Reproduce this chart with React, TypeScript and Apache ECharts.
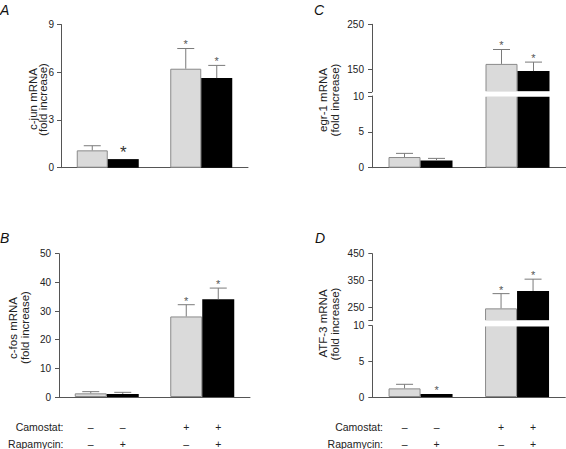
import React, { useEffect, useRef } from 'react';
import * as echarts from 'echarts';

// ---------- data ----------
const groups = ['Control', 'Camostat'];
const camostatSigns = ['–', '–', '+', '+'];
const rapamycinSigns = ['–', '+', '–', '+'];

// A: c-jun (grey = no rapamycin, black = rapamycin)
const cjunGrey = [1.09, 6.22];
const cjunGreySem = [0.29, 1.27];
const cjunBlack = [0.54, 5.63];
const cjunBlackSem = [0, 0.8];
const cjunGreyStar = [0, 1];
const cjunBlackStar = [2, 1];
const cjunTicks = [0, 3, 6, 9];

// B: c-fos
const cfosGrey = [1.28, 28.1];
const cfosGreySem = [0.58, 4.1];
const cfosBlack = [1.05, 34.1];
const cfosBlackSem = [0.58, 3.9];
const cfosGreyStar = [0, 1];
const cfosBlackStar = [0, 1];
const cfosTicks = [0, 10, 20, 30, 40, 50];

// C: egr-1
const egrGrey = [1.49, 162];
const egrGreySem = [0.51, 32];
const egrBlack = [1.02, 146];
const egrBlackSem = [0.28, 20];
const egrGreyStar = [0, 1];
const egrBlackStar = [0, 1];
const egrLowTicks = [0, 5, 10];
const egrHighTicks = [100, 150, 250];
const egrHighLabels = [150, 250];

// D: ATF-3
const atfGrey = [1.21, 246];
const atfGreySem = [0.57, 55];
const atfBlack = [0.42, 311];
const atfBlackSem = [0, 44];
const atfGreyStar = [0, 1];
const atfBlackStar = [1, 1];
const atfLowTicks = [0, 5, 10];
const atfHighTicks = [200, 250, 350, 450];
const atfHighLabels = [250, 350, 450];

// ---------- layout ----------
const FONT = '"Liberation Sans", Arial, Helvetica, sans-serif';
const AXIS_COLOR = '#555';
const LABEL_COLOR = '#222';
const GREY_FILL = '#dadada';
const GREY_BORDER = '#8a8a8a';
const ERR_COLOR = '#7a7a7a';

type Seg = { top: number; height: number; min: number; max: number; ticks: number[]; labels: number[] };
type Panel = {
  letter: string; letterX: number; letterY: number;
  title1: string; t1x: number; t1y: number; t2x: number; t2y: number;
  left: number; width: number; barW: number; labelMargin: number; segs: Seg[];
  grey: number[]; greySem: number[]; black: number[]; blackSem: number[];
  greyStar: number[]; blackStar: number[];
  signs?: { labelRight: number; y1: number; y2: number };
};

const panels: Panel[] = [
  {
    letter: 'A', letterX: 0, letterY: 10,
    title1: 'c-jun mRNA', t1x: 32.8, t1y: 99, t2x: 43, t2y: 99.5,
    left: 61, width: 187, barW: 31, labelMargin: 7,
    segs: [{ top: 24.5, height: 143.2, min: 0, max: 9, ticks: cjunTicks, labels: cjunTicks }],
    grey: cjunGrey, greySem: cjunGreySem, black: cjunBlack, blackSem: cjunBlackSem,
    greyStar: cjunGreyStar, blackStar: cjunBlackStar,
  },
  {
    letter: 'C', letterX: 314, letterY: 10,
    title1: 'egr-1 mRNA', t1x: 322.7, t1y: 100, t2x: 335, t2y: 100,
    left: 372, width: 194, barW: 32, labelMargin: 8,
    segs: [
      { top: 96, height: 71.7, min: 0, max: 10, ticks: egrLowTicks, labels: egrLowTicks },
      { top: 24.3, height: 67.5, min: 100, max: 250, ticks: egrHighTicks, labels: egrHighLabels },
    ],
    grey: egrGrey, greySem: egrGreySem, black: egrBlack, blackSem: egrBlackSem,
    greyStar: egrGreyStar, blackStar: egrBlackStar,
  },
  {
    letter: 'B', letterX: 0, letterY: 238,
    title1: 'c-fos mRNA', t1x: 13, t1y: 328, t2x: 25.3, t2y: 327.5,
    left: 59, width: 191, barW: 32, labelMargin: 8,
    segs: [{ top: 253.7, height: 143.3, min: 0, max: 50, ticks: cfosTicks, labels: cfosTicks }],
    grey: cfosGrey, greySem: cfosGreySem, black: cfosBlack, blackSem: cfosBlackSem,
    greyStar: cfosGreyStar, blackStar: cfosBlackStar,
    signs: { labelRight: 63.5, y1: 426.5, y2: 443.5 },
  },
  {
    letter: 'D', letterX: 315, letterY: 238,
    title1: 'ATF-3 mRNA', t1x: 323.3, t1y: 323.5, t2x: 335.3, t2y: 324,
    left: 372.3, width: 193, barW: 32, labelMargin: 8,
    segs: [
      { top: 325.7, height: 71.3, min: 0, max: 10, ticks: atfLowTicks, labels: atfLowTicks },
      { top: 253.7, height: 67, min: 200, max: 450, ticks: atfHighTicks, labels: atfHighLabels },
    ],
    grey: atfGrey, greySem: atfGreySem, black: atfBlack, blackSem: atfBlackSem,
    greyStar: atfGreyStar, blackStar: atfBlackStar,
    signs: { labelRight: 383, y1: 426.5, y2: 443.5 },
  },
];

function buildOption() {
  const grid: any[] = [];
  const xAxis: any[] = [];
  const yAxis: any[] = [];
  const series: any[] = [];
  const graphic: any[] = [];

  panels.forEach((p) => {
    const makeRender = (barW: number) => (params: any, api: any) => {
      const cat = api.value(0);
      const v = api.value(1);
      const sem = api.value(2);
      const k = api.value(3);
      const star = api.value(4);
      const base = api.coord([cat, v]);
      const top = api.coord([cat, v + sem]);
      const x = base[0] + (k === 0 ? -barW / 2 : barW / 2);
      const children: any[] = [];
      if (sem > 0) {
        children.push({ type: 'line', shape: { x1: x, y1: base[1], x2: x, y2: top[1] }, style: { stroke: ERR_COLOR, lineWidth: 1 } });
        children.push({ type: 'line', shape: { x1: x - 8.5, y1: top[1], x2: x + 8.5, y2: top[1] }, style: { stroke: ERR_COLOR, lineWidth: 1 } });
      }
      if (star) {
        const fs = star === 2 ? 17 : 11;
        const off = star === 2 ? 11 : 7;
        children.push({
          type: 'text', x, y: top[1] - off + 0.27 * fs,
          style: { text: '*', fontSize: fs, fontFamily: FONT, fill: star === 2 ? '#333' : '#555', align: 'center', verticalAlign: 'middle' },
        });
      }
      return { type: 'group', children };
    };

    p.segs.forEach((s, si) => {
      const gi = grid.length;
      const isBottom = si === 0;
      grid.push({ left: p.left, top: s.top, width: p.width, height: s.height, containLabel: false });
      xAxis.push({
        gridIndex: gi, type: 'category', data: groups, show: isBottom,
        axisLine: { show: true, onZero: false, lineStyle: { color: AXIS_COLOR, width: 1 } },
        axisTick: { show: false }, axisLabel: { show: false }, splitLine: { show: false },
      });
      yAxis.push({
        gridIndex: gi, type: 'value', min: s.min, max: s.max,
        axisLine: { show: true, lineStyle: { color: AXIS_COLOR, width: 1 } },
        axisTick: { show: true, length: 4, lineStyle: { color: AXIS_COLOR }, customValues: s.ticks },
        axisLabel: { show: true, margin: p.labelMargin, fontSize: 10, fontFamily: FONT, color: LABEL_COLOR, customValues: s.labels },
        splitLine: { show: false },
      });
      const inSegBar = (v: number) => (si === 0 ? v : v > s.min ? v : null);
      series.push({
        type: 'bar', xAxisIndex: gi, yAxisIndex: gi, barWidth: p.barW, barGap: '0%', clip: true,
        data: p.grey.map(inSegBar),
        itemStyle: { color: GREY_FILL, borderColor: GREY_BORDER, borderWidth: 1 },
        z: 2,
      });
      series.push({
        type: 'bar', xAxisIndex: gi, yAxisIndex: gi, barWidth: p.barW, barGap: '0%', clip: true,
        data: p.black.map(inSegBar),
        itemStyle: { color: '#000' },
        z: 2,
      });
      const errData: any[] = [];
      const pushErr = (vals: number[], sems: number[], stars: number[], k: number) => {
        vals.forEach((v, i) => {
          if (v >= s.min && v <= s.max) errData.push([i, v, sems[i], k, stars[i]]);
        });
      };
      pushErr(p.grey, p.greySem, p.greyStar, 0);
      pushErr(p.black, p.blackSem, p.blackStar, 1);
      series.push({
        type: 'custom', xAxisIndex: gi, yAxisIndex: gi, clip: false, z: 5,
        encode: { x: 0, y: 1 },
        renderItem: makeRender(p.barW),
        data: errData,
      });
    });

    // break gap across the bars
    if (p.segs.length > 1) {
      const low = p.segs[0];
      const high = p.segs[1];
      const hb = high.top + high.height;
      graphic.push({
        type: 'rect', z: 50,
        shape: { x: p.left + 4, y: hb - 0.5, width: p.width - 4, height: low.top - hb + 1.2 },
        style: { fill: '#fff' },
      });
    }

    graphic.push({
      type: 'text', x: p.letterX, y: p.letterY, z: 50,
      style: { text: p.letter, fontSize: 14, fontStyle: 'italic', fontFamily: FONT, fill: '#111', align: 'left', verticalAlign: 'middle' },
    });
    graphic.push({
      type: 'text', x: p.t1x, y: p.t1y, rotation: Math.PI / 2, z: 50,
      style: { text: p.title1, fontSize: 11.5, fontFamily: FONT, fill: LABEL_COLOR, align: 'center', verticalAlign: 'middle' },
    });
    graphic.push({
      type: 'text', x: p.t2x, y: p.t2y, rotation: Math.PI / 2, z: 50,
      style: { text: '(fold increase)', fontSize: 11.5, fontFamily: FONT, fill: LABEL_COLOR, align: 'center', verticalAlign: 'middle' },
    });

    if (p.signs) {
      const sg = p.signs;
      graphic.push({
        type: 'text', x: sg.labelRight, y: sg.y1, z: 50,
        style: { text: 'Camostat:', fontSize: 10.5, fontFamily: FONT, fill: LABEL_COLOR, align: 'right', verticalAlign: 'middle' },
      });
      graphic.push({
        type: 'text', x: sg.labelRight, y: sg.y2, z: 50,
        style: { text: 'Rapamycin:', fontSize: 10.5, fontFamily: FONT, fill: LABEL_COLOR, align: 'right', verticalAlign: 'middle' },
      });
      const band = p.width / groups.length;
      for (let i = 0; i < 4; i++) {
        const g = Math.floor(i / 2);
        const cx = p.left + band * (g + 0.5) + (i % 2 === 0 ? -p.barW / 2 : p.barW / 2);
        graphic.push({
          type: 'text', x: cx, y: sg.y1, z: 50,
          style: { text: camostatSigns[i], fontSize: 10.5, fontFamily: FONT, fill: LABEL_COLOR, align: 'center', verticalAlign: 'middle' },
        });
        graphic.push({
          type: 'text', x: cx, y: sg.y2, z: 50,
          style: { text: rapamycinSigns[i], fontSize: 10.5, fontFamily: FONT, fill: LABEL_COLOR, align: 'center', verticalAlign: 'middle' },
        });
      }
    }
  });

  return {
    animation: false,
    backgroundColor: '#fff',
    grid, xAxis, yAxis, series,
    graphic: { elements: graphic },
  };
}

export default function App() {
  const ref = useRef<HTMLDivElement>(null);
  useEffect(() => {
    if (!ref.current) return;
    const chart = echarts.init(ref.current, undefined, { renderer: 'svg' });
    chart.setOption(buildOption() as any);
    return () => chart.dispose();
  }, []);
  return <div ref={ref} style={{ position: 'fixed', left: 0, top: 0, width: 566, height: 449, background: '#fff' }} />;
}
